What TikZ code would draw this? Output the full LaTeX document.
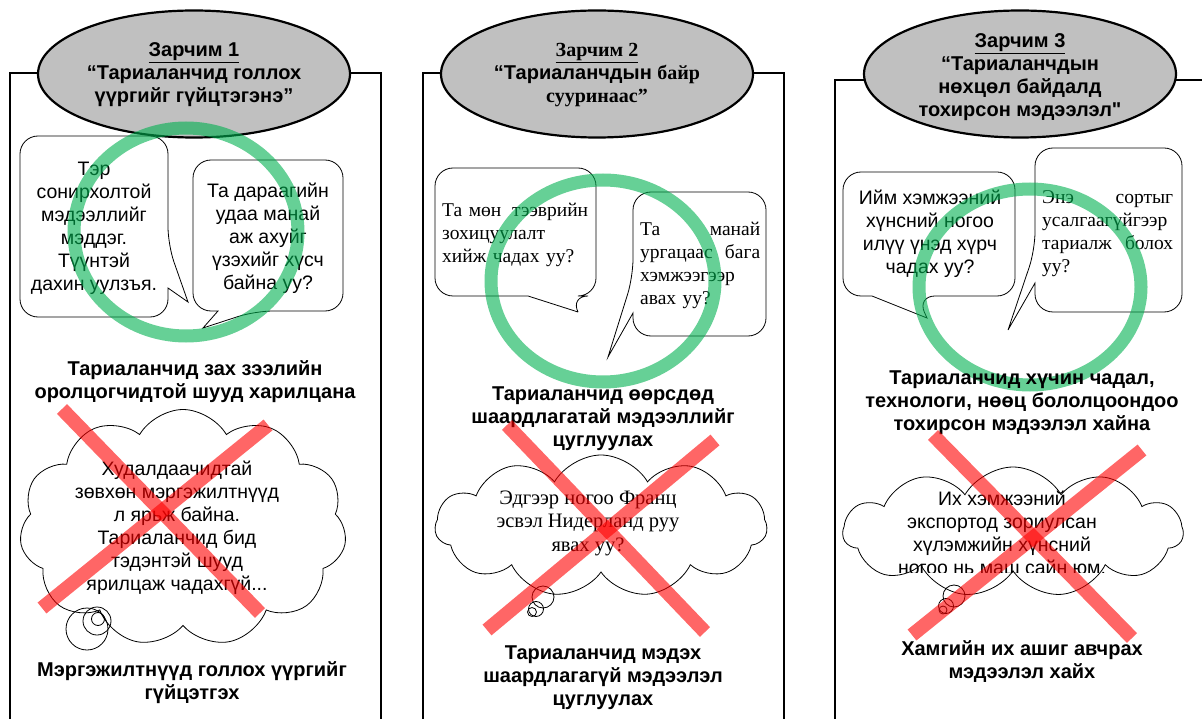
\documentclass[tikz,border=0pt]{standalone}
\usepackage{fontspec}
\setmainfont{Liberation Sans}
\newfontfamily\tnr{Liberation Serif}
\usepackage{xcolor}
\usetikzlibrary{shapes.geometric,shapes.symbols,positioning}
\definecolor{headgray}{RGB}{192,192,192}
\definecolor{okgreen}{RGB}{0,176,80}

\begin{document}
\begin{tikzpicture}[
    x=1pt, y=-1pt,
    head/.style={ellipse, draw, line width=2.2pt, fill=headgray, minimum width=312pt, minimum height=127pt, inner sep=0pt},
    title/.style={align=center, inner sep=0pt, font=\bfseries\fontsize{20}{23}\selectfont},
    panel/.style={draw, line width=1.6pt},
    bubble/.style={draw, line width=0.8pt, rounded corners=18pt},
    say/.style={align=center, inner sep=0pt, font=\fontsize{19.5}{23}\selectfont},
    sayserif/.style={align=left, inner sep=0pt, font=\tnr\fontsize{19.5}{23}\selectfont},
    claim/.style={align=center, inner sep=0pt, font=\bfseries\fontsize{20}{23}\selectfont},
    think/.style={cloud, draw, line width=0.8pt, cloud puffs=11, cloud puff arc=120, inner sep=0pt},
    ring/.style={draw=okgreen, opacity=0.6, line width=13pt},
    cross/.style={draw=red, opacity=0.6, line width=14pt}
]
    \useasboundingbox (0,0) rectangle (1202,719);
    \clip (0,0) rectangle (1202,719);

    % Panels
    \draw[panel] (10,73) rectangle (381,740);
    \draw[panel] (423,73) rectangle (784,740);
    \draw[panel] (835,80) rectangle (1220,740);

    % Headers
    \node[head] (head1) at (194,74) {};
    \node[title] (title1) at (194,75) {\underline{Зарчим 1}\\“Тариаланчид голлох\\үүргийг гүйцтэгэнэ”};
    \node[head] (head2) at (597,74) {};
    \node[title] (title2) at (597,75) {{\tnr\underline{Зарчим 2}}\\“Тариаланчдын {\tnr байр}\\{\tnr сууринаас”}};
    \node[head] (head3) at (1020,74) {};
    \node[title] (title3) at (1020,77) {\underline{Зарчим 3}\\“Тариаланчдын\\нөхцөл байдалд\\тохирсон мэдээлэл{\addfontfeature{Ligatures=TeXOff}"}};

    % Panel 1: speech
    \draw[bubble] (20,136) -- (168,136) -- (168,245) [sharp corners] -- (188,302) -- (168,288) [rounded corners=18pt] -- (168,317) -- (20,317) -- cycle;
    \node[say] (say1a) at (94,228) {Тэр\\сонирхолтой\\мэдээллийг\\мэддэг.\\Түүнтэй\\дахин уулзъя.};
    \draw[bubble] (343,311) -- (255,311) [sharp corners] -- (203,328) -- (218,311) [rounded corners=18pt] -- (193,311) -- (193,160) -- (343,160) -- cycle;
    \node[say] (say1b) at (268,238) {Та дараагийн\\удаа манай\\аж ахуйг\\үзэхийг хүсч\\байна уу?};
    \draw[ring] (186,232) ellipse [x radius=112pt, y radius=104pt];
    \node[claim] (good1) at (195,382) {Тариаланчид зах зээлийн\\оролцогчидтой шууд харилцана};

    % Panel 1: thought
    \node[think, minimum width=327pt, minimum height=237pt] (cloud1) at (183,528) {};
    \draw[line width=0.8pt] (87,629) circle[radius=21pt];
    \draw[line width=0.8pt] (97,621) circle[radius=14pt];
    \draw[line width=0.8pt] (98,619) circle[radius=6.5pt];
    \node[say] (think1) at (177,528) {Худалдаачидтай\\зөвхөн мэргэжилтнүүд\\л ярьж байна.\\Тариаланчид бид\\тэдэнтэй шууд\\ярилцаж чадахгүй...};
    \draw[cross] (62,409) -- (260,613);
    \draw[cross] (268,425) -- (42,608);
    \node[claim] (bad1) at (192,683) {Мэргэжилтнүүд голлох үүргийг\\гүйцэтгэх};

    % Panel 2: speech
    \draw[bubble] (435,168) -- (596,168) -- (596,296) -- (570,296) [sharp corners] -- (578,312) -- (528,296) [rounded corners=18pt] -- (435,296) -- cycle;
    \node[sayserif, text width=146pt, anchor=west] (say2a) at (442,235) {Та мөн \hfill тээврийн\\зохицуулалт\\хийж чадах уу?};
    \draw[bubble] (633,313) -- (633,336) -- (766,336) -- (766,192) -- (633,192) -- (633,277) [sharp corners] -- (608,357) -- cycle;
    \node[sayserif, text width=120pt, anchor=west] (say2b) at (640,265) {Та \hfill манай\\ургацаас \hfill бага\\хэмжээгээр\\авах уу?};
    \draw[ring] (603,281) ellipse [x radius=112pt, y radius=101pt];
    \node[claim] (good2) at (603,419) {Тариаланчид өөрсдөд\\шаардлагатай мэдээллийг\\цуглуулах};

    % Panel 2: thought
    \node[think, minimum width=332pt, minimum height=142pt] (cloud2) at (601,526) {};
    \draw[line width=0.8pt] (543,597) circle[radius=11pt];
    \draw[line width=0.8pt] (536,609) circle[radius=7.5pt];
    \draw[line width=0.8pt] (532,612) circle[radius=4.5pt];
    \node[sayserif, align=center, font=\tnr\fontsize{20.5}{23.5}\selectfont] (think2) at (588,523) {Эдгээр ногоо Франц\\эсвэл Нидерланд руу\\явах уу?};
    \draw[cross] (507,425) -- (705,632);
    \draw[cross] (715,440) -- (487,630);
    \node[claim] (bad2) at (603,678) {Тариаланчид мэдэх\\шаардлагагүй мэдээлэл\\цуглуулах};

    % Panel 3: speech
    \draw[bubble] (1015,296) -- (917,296) [sharp corners] -- (927,318) -- (872,296) [rounded corners=18pt] -- (843,296) -- (843,172) -- (1015,172) -- cycle;
    \node[say] (say3a) at (930,234) {Ийм хэмжээний\\хүнсний ногоо\\илүү үнэд хүрч\\чадах уу?};
    \draw[bubble] (1035,283) -- (1035,312) -- (1182,312) -- (1182,148) -- (1035,148) -- (1035,250) [sharp corners] -- (1008,330) -- cycle;
    \node[sayserif, text width=131pt, anchor=west] (say3b) at (1042,234) {Энэ \hfill сортыг\\усалгаагүйгээр\\тариалж \hfill болох\\уу?};
    \draw[ring] (1030,287) ellipse [x radius=111pt, y radius=98pt];
    \node[claim] (good3) at (1022,403) {Тариаланчид хүчин чадал,\\технологи, нөөц бололцоондоо\\тохирсон мэдээлэл хайна};

    % Panel 3: thought
    \node[think, minimum width=340pt, minimum height=130pt] (cloud3) at (1013,532) {};
    \draw[line width=0.8pt] (954,596) circle[radius=11pt];
    \draw[line width=0.8pt] (946,606) circle[radius=7.5pt];
    \draw[line width=0.8pt] (943,610) circle[radius=4pt];
    \begin{scope}
        \clip (843,467) rectangle (1183,572);
        \node[say] (think3) at (1002,533) {Их хэмжээний\\экспортод зориулсан\\хүлэмжийн хүнсний\\ногоо нь маш сайн юм.};
    \end{scope}
    \draw[cross] (933,435) -- (1132,638);
    \draw[cross] (1142,450) -- (912,635);
    \node[claim] (bad3) at (1022,662) {Хамгийн их ашиг авчрах\\мэдээлэл хайх};

\end{tikzpicture}
\end{document}
